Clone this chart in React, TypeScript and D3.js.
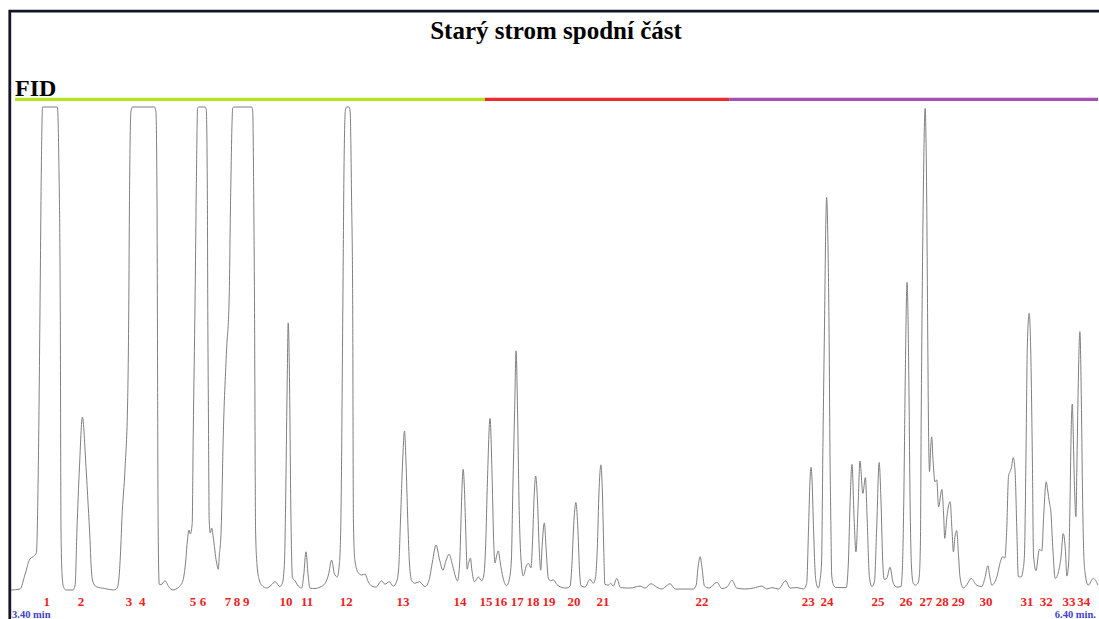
import React from 'react';
import * as d3 from 'd3';

const W = 1099;
const H = 619;

const TITLE = 'Starý strom spodní část';
const DETECTOR = 'FID';
const TIME_DOMAIN: [number, number] = [3.4, 6.4];
const SIGNAL_DOMAIN: [number, number] = [0, 100];
const AXIS_LABELS = ['3.40 min', '6.40 min.'];

// temperature/program segments of the colour bar (min)
const PROGRAM_BOUNDS = [3.411, 4.708, 5.382, 6.4];
const PROGRAM_COLORS = ['#b5e31e', '#ee2b2b', '#a64fb3'];

const PEAK_IDS = [
  '1', '2', '3', '4', '5', '6', '7', '8', '9', '10', '11', '12', '13', '14', '15', '16', '17',
  '18', '19', '20', '21', '22', '23', '24', '25', '26', '27', '28', '29', '30', '31', '32', '33', '34',
];
const PEAK_TIMES = [
  3.499, 3.593, 3.726, 3.762, 3.902, 3.93, 3.999, 4.024, 4.049, 4.159, 4.217, 4.325, 4.482, 4.639,
  4.711, 4.752, 4.797, 4.841, 4.885, 4.954, 5.034, 5.307, 5.6, 5.652, 5.793, 5.87, 5.925, 5.97,
  6.014, 6.091, 6.204, 6.257, 6.32, 6.361,
];

// FID signal, % of full scale (100 = detector off-scale), vs retention time (min)
const TRACE: [number, number][] = [
  [3.4, 0], [3.425, 0.2], [3.439, 3.3], [3.452, 6.4], [3.463, 7.0], [3.47, 7.7], [3.476, 29.0],
  [3.48, 58.0], [3.484, 89.0], [3.487, 100], [3.528, 100], [3.532, 89.0], [3.536, 58.0],
  [3.538, 12.4], [3.541, 3.1], [3.545, 0.6], [3.552, 0], [3.571, 0], [3.577, 1.0], [3.582, 12.4],
  [3.589, 25.5], [3.597, 35.8], [3.607, 25.5], [3.613, 17.5], [3.618, 10.5], [3.621, 5.2],
  [3.626, 1.7], [3.635, 0.7], [3.659, 0.3], [3.684, 0],
  [3.693, 0.4], [3.698, 2.5], [3.703, 8.9], [3.706, 14.5], [3.715, 25.5], [3.722, 39.3],
  [3.725, 58.0], [3.727, 80.7], [3.731, 99.0], [3.735, 100], [3.796, 100], [3.8, 99.0],
  [3.803, 80.7], [3.804, 58.0], [3.806, 14.5], [3.809, 1.2], [3.814, 1.1], [3.825, 1.9],
  [3.836, 0.6], [3.847, 0], [3.858, 0.3], [3.866, 0.8], [3.875, 2.1], [3.882, 5.8], [3.887, 10.4],
  [3.891, 12.4], [3.895, 11.6], [3.9, 13.7], [3.903, 32.5], [3.908, 60.0], [3.912, 87.0],
  [3.915, 99.8], [3.918, 100], [3.936, 100], [3.939, 99.4], [3.942, 80.7], [3.943, 60.0],
  [3.945, 35.2], [3.947, 14.5], [3.95, 11.8], [3.954, 12.8], [3.958, 11.0], [3.967, 5.8],
  [3.972, 4.3], [3.975, 7.2], [3.98, 12.4], [3.986, 32.5], [3.995, 49.7], [4.002, 60.0],
  [4.006, 80.7], [4.012, 99.8], [4.015, 100], [4.064, 100], [4.067, 99.4], [4.07, 80.7],
  [4.072, 60.0], [4.075, 12.4], [4.079, 5.2], [4.085, 2.1], [4.092, 1.0], [4.106, 0.4],
  [4.118, 1.0], [4.129, 1.7], [4.142, 0.7], [4.149, 1.4], [4.155, 6.2], [4.158, 18.6],
  [4.162, 41.4], [4.165, 55.3], [4.169, 41.4], [4.172, 18.6], [4.177, 2.5], [4.184, 1.9],
  [4.191, 1.0], [4.202, 0.4], [4.208, 3.1], [4.214, 7.9], [4.22, 3.1], [4.225, 0.4], [4.239, 0.3],
  [4.253, 0.6], [4.267, 1.4], [4.276, 3.1], [4.285, 6.2], [4.292, 3.5], [4.3, 2.7], [4.306, 5.2],
  [4.31, 12.4], [4.316, 60.0], [4.319, 87.0], [4.323, 99.4], [4.326, 100], [4.333, 100],
  [4.336, 99.0], [4.34, 80.7], [4.343, 60.0], [4.345, 14.5], [4.349, 6.2], [4.359, 3.5],
  [4.368, 3.1], [4.377, 3.3], [4.386, 1.7], [4.396, 0.8], [4.407, 0.6], [4.423, 1.9], [4.432, 1.2],
  [4.444, 1.7], [4.455, 0.8], [4.464, 1.7], [4.47, 4.6], [4.475, 14.5], [4.481, 26.9],
  [4.486, 32.9], [4.49, 26.9], [4.495, 14.5], [4.5, 5.2], [4.506, 1.9], [4.515, 1.4], [4.527, 1.7],
  [4.543, 0.7], [4.554, 2.1], [4.563, 5.8], [4.573, 9.3], [4.583, 6.2], [4.592, 4.1], [4.601, 6.2],
  [4.609, 7.4], [4.619, 5.0], [4.627, 2.7], [4.632, 1.9], [4.638, 5.2], [4.642, 14.5],
  [4.645, 21.7], [4.648, 25.0], [4.651, 21.7], [4.655, 12.4], [4.659, 4.3], [4.663, 5.6],
  [4.668, 6.6], [4.672, 4.1], [4.679, 1.7], [4.69, 2.7], [4.699, 1.9], [4.705, 3.1], [4.71, 9.3],
  [4.715, 22.8], [4.722, 35.5], [4.728, 22.8], [4.732, 10.4], [4.736, 5.6], [4.74, 7.0],
  [4.745, 8.1], [4.75, 5.8], [4.758, 2.5], [4.768, 0.9], [4.776, 2.5], [4.781, 6.2], [4.785, 20.7],
  [4.79, 37.3], [4.794, 49.5], [4.798, 37.3], [4.802, 18.6], [4.807, 7.0], [4.814, 2.9],
  [4.822, 5.0], [4.828, 5.5], [4.835, 4.6], [4.839, 9.3], [4.844, 19.7], [4.848, 23.6],
  [4.853, 18.6], [4.858, 8.3], [4.862, 4.1], [4.866, 9.3], [4.872, 13.9], [4.877, 8.3],
  [4.883, 2.5], [4.889, 1.9], [4.897, 2.1], [4.907, 1.1], [4.918, 0.6], [4.932, 0.4], [4.943, 0.8],
  [4.948, 5.2], [4.953, 13.5], [4.959, 18.1], [4.964, 13.5], [4.969, 4.1], [4.973, 0.9],
  [4.984, 0.6], [4.998, 2.2], [5.007, 1.4], [5.013, 2.5], [5.018, 8.3], [5.023, 20.7],
  [5.028, 25.9], [5.032, 20.7], [5.036, 8.3], [5.039, 1.2], [5.049, 1.0], [5.055, 1.4],
  [5.062, 0.8], [5.072, 2.4], [5.082, 0.5], [5.108, 0.4], [5.136, 0.8], [5.15, 0.4], [5.166, 1.3],
  [5.182, 0.6], [5.197, 0.2], [5.205, 0.6], [5.219, 1.3], [5.233, 0.2], [5.283, 0.2], [5.291, 1.0],
  [5.296, 4.6], [5.302, 6.9], [5.307, 4.6], [5.314, 0.8], [5.327, 0.4], [5.348, 1.6], [5.362, 0.3],
  [5.376, 0.6], [5.39, 2.0], [5.403, 0.4], [5.426, 0.2], [5.449, 0.4], [5.472, 0.8], [5.486, 0.2],
  [5.5, 0.5], [5.518, 0.2], [5.538, 1.9], [5.55, 0.4], [5.569, 0.5], [5.587, 0.2], [5.596, 1.4],
  [5.601, 12.4], [5.605, 22.4], [5.608, 25.4], [5.611, 22.4], [5.615, 12.4], [5.621, 2.1],
  [5.628, 0.4], [5.633, 2.1], [5.637, 5.6], [5.641, 31.1], [5.645, 53.8], [5.649, 76.6],
  [5.651, 81.3], [5.655, 70.4], [5.658, 51.8], [5.66, 31.1], [5.663, 12.4], [5.665, 3.1],
  [5.67, 1.0], [5.677, 0.5], [5.705, 0.5], [5.711, 5.6], [5.716, 18.6], [5.721, 26.0],
  [5.727, 14.5], [5.732, 7.9], [5.738, 17.6], [5.743, 26.7], [5.751, 20.0], [5.758, 23.3],
  [5.763, 14.5], [5.769, 2.8], [5.776, 0.7], [5.783, 1.7], [5.789, 12.4], [5.796, 26.4],
  [5.801, 18.6], [5.806, 5.6], [5.81, 2.2], [5.817, 2.4], [5.826, 4.7], [5.835, 1.4], [5.845, 0.6],
  [5.856, 0.7], [5.86, 4.1], [5.864, 18.6], [5.868, 43.5], [5.873, 63.7], [5.878, 43.5],
  [5.881, 20.7], [5.885, 5.2], [5.89, 1.4], [5.896, 1.0], [5.903, 1.4], [5.907, 3.1], [5.91, 10.4],
  [5.912, 35.2], [5.914, 53.8], [5.918, 82.8], [5.923, 99.7], [5.927, 82.8], [5.93, 53.8],
  [5.932, 35.2], [5.935, 24.5], [5.938, 29.0], [5.941, 31.7], [5.945, 26.5], [5.95, 22.4],
  [5.955, 22.8], [5.96, 17.2], [5.969, 20.8], [5.974, 15.5], [5.977, 10.7], [5.983, 15.2],
  [5.992, 18.3], [5.997, 12.4], [6.001, 7.9], [6.005, 10.8], [6.01, 12.3], [6.015, 7.2],
  [6.019, 2.8], [6.028, 0.4], [6.039, 1.2], [6.05, 2.4], [6.065, 1.0], [6.079, 0.7], [6.088, 2.5],
  [6.096, 5.0], [6.102, 2.5], [6.107, 1.0], [6.121, 2.8], [6.132, 6.2], [6.137, 6.9], [6.143, 6.6],
  [6.148, 12.4], [6.153, 23.5], [6.157, 24.5], [6.161, 25.3], [6.166, 27.4], [6.171, 24.8],
  [6.176, 12.4], [6.18, 2.8], [6.188, 2.7], [6.193, 4.1], [6.197, 7.2], [6.201, 26.3],
  [6.205, 50.7], [6.21, 57.3], [6.214, 50.7], [6.219, 26.3], [6.222, 7.2], [6.229, 4.0],
  [6.238, 8.4], [6.245, 8.1], [6.25, 15.2], [6.257, 22.4], [6.261, 20.7], [6.266, 18.0],
  [6.27, 16.2], [6.275, 9.0], [6.282, 2.4], [6.291, 3.8], [6.298, 6.9], [6.304, 11.7], [6.31, 8.3],
  [6.314, 2.9], [6.319, 5.6], [6.323, 19.3], [6.326, 33.1], [6.329, 38.5], [6.332, 31.1],
  [6.335, 21.7], [6.339, 15.2], [6.342, 26.9], [6.346, 44.5], [6.35, 53.5], [6.354, 39.3],
  [6.357, 21.7], [6.36, 9.3], [6.364, 3.7], [6.373, 1.0], [6.387, 2.4], [6.4, 1.0],
];

const SERIF = '"Liberation Serif", "Times New Roman", serif';

export default function App() {
  const x = d3.scaleLinear().domain(TIME_DOMAIN).range([11, 1098]);
  const y = d3.scaleLinear().domain(SIGNAL_DOMAIN).range([590, 107]);

  const line = d3
    .line<[number, number]>()
    .x((d) => x(d[0]))
    .y((d) => y(d[1]))
    .curve(d3.curveMonotoneX);

  const segments = PROGRAM_COLORS.map((c, i) => ({
    color: c,
    x0: x(PROGRAM_BOUNDS[i]),
    x1: x(PROGRAM_BOUNDS[i + 1]),
  }));

  return (
    <svg
      width={W}
      height={H}
      style={{ position: 'absolute', left: 0, top: 0, background: '#fff' }}
    >
      <rect x={0} y={0} width={W} height={H} fill="#fff" />
      {/* frame */}
      <path d={`M9.8,${H} V11.2 H${W}`} fill="none" stroke="#14142a" strokeWidth={2.8} />

      <text
        x={556}
        y={39}
        textAnchor="middle"
        fontFamily={SERIF}
        fontWeight="bold"
        fontSize={25}
        fill="#000"
      >
        {TITLE}
      </text>
      <text x={15} y={96} fontFamily={SERIF} fontWeight="bold" fontSize={24} fill="#000">
        {DETECTOR}
      </text>

      {segments.map((s, i) => (
        <line
          key={i}
          x1={s.x0}
          x2={s.x1}
          y1={99.3}
          y2={99.3}
          stroke={s.color}
          strokeWidth={3.2}
        />
      ))}

      <path d={line(TRACE) || ''} fill="none" stroke="#7f7f7f" strokeWidth={1} />

      {PEAK_IDS.map((id, i) => (
        <text
          key={id}
          x={x(PEAK_TIMES[i])}
          y={606}
          textAnchor="middle"
          fontFamily={SERIF}
          fontWeight="bold"
          fontSize={13}
          fill="#f01e1e"
        >
          {id}
        </text>
      ))}

      <text
        x={x(TIME_DOMAIN[0]) + 1}
        y={617.5}
        fontFamily={SERIF}
        fontWeight="bold"
        fontSize={10.5}
        fill="#4444cc"
      >
        {AXIS_LABELS[0]}
      </text>
      <text
        x={x(TIME_DOMAIN[1]) - 2}
        y={617.5}
        textAnchor="end"
        fontFamily={SERIF}
        fontWeight="bold"
        fontSize={10.5}
        fill="#4444cc"
      >
        {AXIS_LABELS[1]}
      </text>
    </svg>
  );
}
